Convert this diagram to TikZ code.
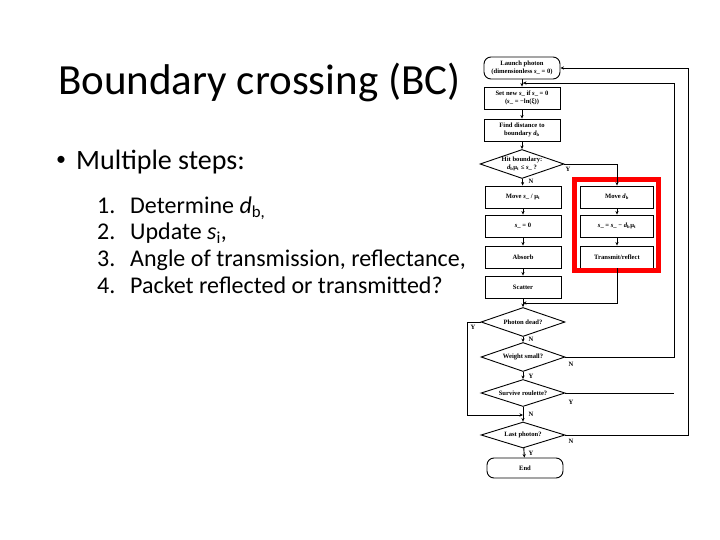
\documentclass[tikz,border=0pt]{standalone}
\usepackage{fontspec}
\setmainfont{Carlito}
\newfontfamily\chartfont{Liberation Serif}
\usetikzlibrary{arrows.meta,shapes,positioning}

\begin{document}
\begin{tikzpicture}[x=1pt,y=-1pt]
   \tikzstyle{box}=[draw,line width=0.9pt,minimum width=76pt,minimum height=22pt,inner sep=1pt,align=center,font=\chartfont\bfseries\fontsize{6.6}{7.4}\selectfont]
   \tikzstyle{term}=[box,rounded corners=7pt]
   \tikzstyle{dec}=[box,diamond,aspect=3,inner sep=0pt,minimum width=84pt,minimum height=29pt]
   \tikzstyle{ar}=[line width=0.9pt,-{Stealth[length=3.5pt,width=3.2pt]}]
   \tikzstyle{ln}=[line width=0.9pt]
   \tikzstyle{yn}=[font=\chartfont\bfseries\fontsize{6.6}{7.4}\selectfont,inner sep=0pt]
   \tikzstyle{item}=[anchor=base west,inner sep=0pt,font=\fontsize{24}{28}\selectfont]

   \useasboundingbox (0,0) rectangle (720,540);

   % slide text
   \node (title) [anchor=base west,inner sep=0pt,font=\fontsize{43}{50}\selectfont] at (58,95) {Boundary crossing (BC)};
   \node (bul) [inner sep=0pt,font=\fontsize{20}{24}\selectfont] at (61,161) {\textbullet};
   \node (steps) [anchor=base west,inner sep=0pt,font=\fontsize{28}{32}\selectfont] at (76,170) {Multiple steps:};
   \node (n1) [item] at (97,214) {1.};
   \node (n2) [item] at (97,240) {2.};
   \node (n3) [item] at (97,266) {3.};
   \node (n4) [item] at (97,293) {4.};
   \node (t1) [item] at (130,214) {Determine \textit{d}\textsubscript{b,}};
   \node (t2) [item] at (130,240) {Update \textit{s}\textsubscript{i},};
   \node (t3) [item] at (130,266) {Angle of transmission, reflectance,};
   \node (t4) [item] at (130,293) {Packet reflected or transmitted?};

   % flowchart, main column
   \node (launch) [term] at (522,68) {Launch photon\\(dimensionless \textit{s}\_ = 0)};
   \node (setnew) [box] at (522,98) {Set new \textit{s}\_ if \textit{s}\_ = 0\\(\textit{s}\_ = −ln(ξ))};
   \node (dist) [box] at (522,130) {Find distance to\\boundary \textit{d}\textsubscript{b}};
   \node (hit) [dec] at (522,164) {Hit boundary:\\\textit{d}\textsubscript{b}μ\textsubscript{t} ≤ \textit{s}\_ ?};
   \node (moves) [box] at (523,197) {Move \textit{s}\_ / μ\textsubscript{t}};
   \node (szero) [box] at (523,226) {\textit{s}\_ = 0};
   \node (absorb) [box] at (523,257) {Absorb};
   \node (scatter) [box] at (523,287) {Scatter};
   \node (dead) [dec] at (523,322) {Photon dead?};
   \node (weight) [dec] at (523,357) {Weight small?};
   \node (roul) [dec,minimum height=27pt] at (523,393) {Survive roulette?};
   \node (last) [dec,minimum height=26pt] at (523,435) {Last photon?};
   \node (endn) [term,minimum height=20pt] at (525,468) {End};

   % flowchart, boundary column
   \node (movedb) [box,minimum width=73pt] at (617,197) {Move \textit{d}\textsubscript{b}};
   \node (supd) [box,minimum width=73pt] at (617,226) {\textit{s}\_ = \textit{s}\_ − \textit{d}\textsubscript{b}μ\textsubscript{t}};
   \node (trans) [box,minimum width=73pt] at (617,257) {Transmit/reflect};
   \draw [red,line width=5pt] (574.5,179.5) rectangle (658.5,270.5);

   \coordinate (j1) at (523,83);
   \coordinate (j2) at (523,303);
   \coordinate (j3) at (523,415);

   \draw [ar] (launch) -- (setnew);
   \draw [ar] (setnew) -- (dist);
   \draw [ar] (dist) -- (hit);
   \draw [ar] (hit) -- (moves);
   \draw [ar] (moves) -- (szero);
   \draw [ar] (szero) -- (absorb);
   \draw [ar] (absorb) -- (scatter);
   \draw [ar] (scatter) -- (dead);
   \draw [ar] (dead) -- (weight);
   \draw [ar] (weight) -- (roul);
   \draw [ar] (roul) -- (last);
   \draw [ar] (last) -- (endn);

   \draw [ar] (hit.east) -| (movedb.north);
   \draw [ar] (movedb) -- (supd);
   \draw [ar] (supd) -- (trans);
   \draw [ar] (trans.south) |- (j2);
   \draw [ar] (dead.west) -| (467,415) -- (j3);
   \draw [ar] (weight.east) -| (674,83) -- (j1);
   \draw [ln] (roul.east) -- (674,393);
   \draw [ar] (last.east) -| (688,68) -- (launch.east);

   % yes / no labels
   \node (y1) [yn] at (568,169) {Y};
   \node (n1l) [yn] at (531,181) {N};
   \node (y2) [yn] at (473,327) {Y};
   \node (n2l) [yn] at (531,339) {N};
   \node (n3l) [yn] at (571,364) {N};
   \node (y3) [yn] at (531,376) {Y};
   \node (y4) [yn] at (571,402) {Y};
   \node (n4l) [yn] at (531,414) {N};
   \node (n5l) [yn] at (571,441) {N};
   \node (y5) [yn] at (531,453) {Y};
\end{tikzpicture}
\end{document}
